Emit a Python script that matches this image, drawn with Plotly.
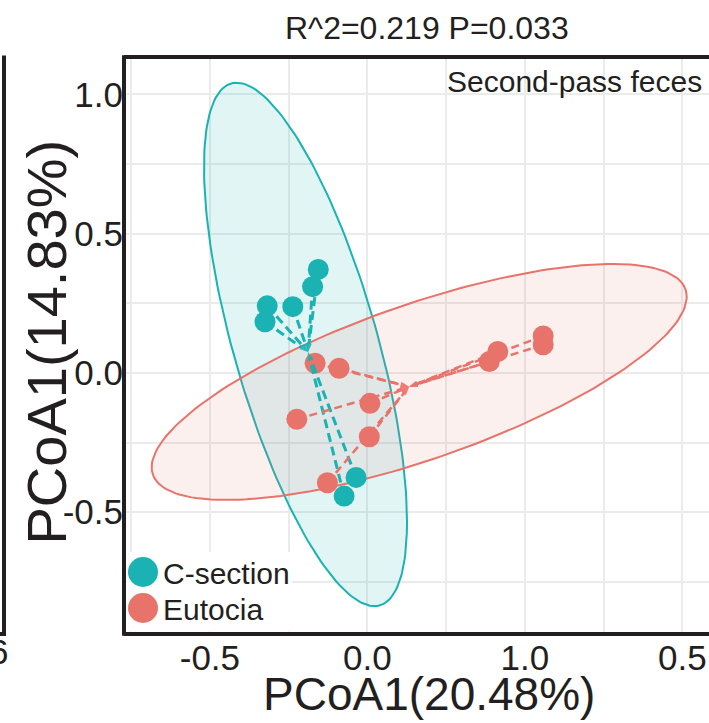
import numpy as np
import plotly.graph_objects as go

# ---------------- data ----------------
groups = ["C-section", "Eutocia"]
colors = {"C-section": "#1BB2B3", "Eutocia": "#E8736B"}

csec_x = [-0.156, -0.174, -0.318, -0.325, -0.237, -0.036, -0.074]
csec_y = [0.372, 0.310, 0.241, 0.184, 0.238, -0.375, -0.442]

eut_x = [-0.166, -0.090, 0.008, 0.006, -0.224, -0.127, 0.414, 0.387, 0.558, 0.558]
eut_y = [0.035, 0.017, -0.109, -0.229, -0.166, -0.394, 0.077, 0.041, 0.133, 0.101]

# confidence ellipses: centre and shape matrix [[sxx, sxy], [sxy, syy]] (data units)
csec_ell_center = [-0.1965, 0.1027]
csec_ell_shape = [[0.10382, -0.20524], [-0.20524, 0.88300]]
eut_ell_center = [0.1644, -0.0323]
eut_ell_shape = [[0.72115, 0.25990], [0.25990, 0.17952]]

x_tickvals = [-0.5, 0.0, 0.5, 1.0]
x_ticktext = ["-0.5", "0.0", "1.0", "0.5"]
y_tickvals = [-0.5, 0.0, 0.5, 1.0]
y_ticktext = ["-0.5", "0.0", "0.5", "1.0"]
minor_vals = [-0.75, -0.25, 0.25, 0.75]

title_text = "R^2=0.219 P=0.033"
panel_label = "Second-pass feces"
x_title = "PCoA1(20.48%)"
y_title = "PCoA1(14.83%)"

# ---------------- layout geometry ----------------
W, H = 709, 723
ML, MT, MB, MR = 124, 57, 89, 0
PW, PH = W - ML - MR, H - MT - MB
x_range = [-0.7727, 1.0844]
y_range = [-0.9372, 1.1346]
INK = "#231f20"
FONT = "Liberation Sans, Arial, sans-serif"


def pxx(px):
    return (px - ML) / PW


def pyy(py):
    return (H - MB - py) / PH


def ellipse(center, shape, n=200):
    t = np.linspace(0, 2 * np.pi, n)
    L = np.linalg.cholesky(np.array(shape))
    pts = L @ np.vstack([np.cos(t), np.sin(t)])
    return pts[0] + center[0], pts[1] + center[1]


def rgba(hexc, a):
    hexc = hexc.lstrip("#")
    r, g, b = int(hexc[0:2], 16), int(hexc[2:4], 16), int(hexc[4:6], 16)
    return f"rgba({r},{g},{b},{a})"


fig = go.Figure()

series = {
    "C-section": (csec_x, csec_y, csec_ell_center, csec_ell_shape, 0.13, 3, "9px,5px"),
    "Eutocia": (eut_x, eut_y, eut_ell_center, eut_ell_shape, 0.11, 2.5, "8px,5px"),
}

# ellipses
for g in groups:
    xs, ys, cen, shp, alpha, lw, dash = series[g]
    ex, ey = ellipse(cen, shp)
    fig.add_trace(go.Scatter(x=ex, y=ey, mode="lines", fill="toself",
                             fillcolor=rgba(colors[g], alpha),
                             line=dict(color=colors[g], width=2),
                             hoverinfo="skip", showlegend=False))

# points
for g in ["Eutocia", "C-section"]:
    xs, ys, cen, shp, alpha, lw, dash = series[g]
    fig.add_trace(go.Scatter(x=xs, y=ys, mode="markers", name=g,
                             marker=dict(color=colors[g], size=21, line=dict(width=0)),
                             showlegend=False))

# spider segments to the centroid with arrow heads
for g in groups:
    xs, ys, cen, shp, alpha, lw, dash = series[g]
    cx, cy = float(np.mean(xs)), float(np.mean(ys))
    sx, sy, sizes = [], [], []
    for x, y in zip(xs, ys):
        sx += [x, cx, None]
        sy += [y, cy, None]
        sizes += [0, 9, 0]
    fig.add_trace(go.Scatter(x=sx, y=sy, mode="lines+markers",
                             line=dict(color=colors[g], width=lw, dash=dash),
                             marker=dict(symbol="arrow", angleref="previous",
                                         size=sizes, color=colors[g], line=dict(width=0)),
                             hoverinfo="skip", showlegend=False))

grid = "#EBEBEB"
fig.update_xaxes(range=x_range, tickmode="array", tickvals=x_tickvals, ticktext=x_ticktext,
                 showgrid=True, gridcolor=grid, gridwidth=1.5, zeroline=False, showline=False,
                 ticks="", tickfont=dict(size=35, color=INK, family=FONT),
                 minor=dict(tickvals=minor_vals, showgrid=True, gridcolor=grid, gridwidth=1.5))
fig.update_yaxes(range=y_range, tickmode="array", tickvals=y_tickvals, ticktext=y_ticktext,
                 showgrid=True, gridcolor=grid, gridwidth=1.5, zeroline=False, showline=False,
                 ticks="", tickfont=dict(size=35, color=INK, family=FONT),
                 minor=dict(tickvals=minor_vals, showgrid=True, gridcolor=grid, gridwidth=1.5))

shapes = []
# panel frame (left, top, bottom)
for (x0, y0, x1, y1) in [(0, -0.003, 0, 1.003), (0, 1, 1, 1), (0, 0, 1, 0)]:
    shapes.append(dict(type="line", xref="paper", yref="paper", x0=x0, y0=y0, x1=x1, y1=y1,
                       line=dict(color=INK, width=4), layer="above"))
# fragment of the neighbouring panel
shapes.append(dict(type="line", xref="paper", yref="paper", x0=pxx(4), x1=pxx(4),
                   y0=pyy(55.5), y1=pyy(636), line=dict(color=INK, width=4)))
shapes.append(dict(type="line", xref="paper", yref="paper", x0=pxx(-6), x1=pxx(6),
                   y0=pyy(634), y1=pyy(634), line=dict(color=INK, width=4)))
# legend box
shapes.append(dict(type="rect", xref="paper", yref="paper", x0=pxx(126.5), x1=pxx(292),
                   y0=pyy(631.5), y1=pyy(552), fillcolor="white", line=dict(width=0), layer="above"))
for g, cy in zip(groups, [572, 608]):
    shapes.append(dict(type="circle", xref="paper", yref="paper",
                       x0=pxx(128), x1=pxx(158), y0=pyy(cy + 15), y1=pyy(cy - 15),
                       fillcolor=colors[g], line=dict(width=0), layer="above"))


def note(text, px, py, size, xanchor="center", angle=0):
    return dict(text=text, x=pxx(px), y=pyy(py), xref="paper", yref="paper",
                xanchor=xanchor, yanchor="middle", textangle=angle, showarrow=False,
                font=dict(size=size, color=INK, family=FONT))


annotations = [
    note(title_text, 427, 28, 32),
    note(panel_label, 704, 82, 30, xanchor="right"),
    note(x_title, 429, 694, 46),
    note(y_title, 46, 342.5, 56, angle=-90),
    note("6", 10, 651, 35, xanchor="right"),
]
for g, cy in zip(groups, [573, 609]):
    annotations.append(note(g, 161, cy, 30, xanchor="left"))

fig.update_layout(width=W, height=H, margin=dict(l=ML, r=MR, t=MT, b=MB, pad=0),
                  paper_bgcolor="white", plot_bgcolor="white",
                  shapes=shapes, annotations=annotations, showlegend=False,
                  font=dict(family=FONT, color=INK))

fig.write_html("out.html")
